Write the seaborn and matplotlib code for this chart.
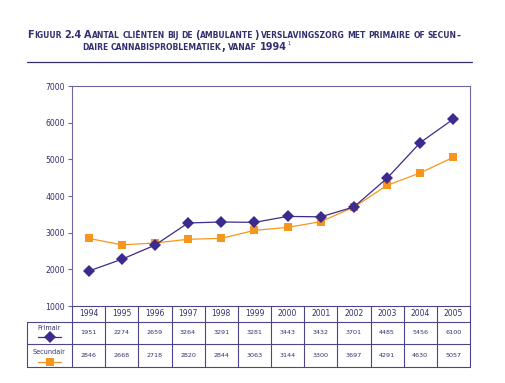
import re
import matplotlib
matplotlib.use("Agg")
import matplotlib.pyplot as plt
import seaborn as sns
import pandas as pd
from matplotlib.lines import Line2D
from matplotlib.transforms import blended_transform_factory

# ---------------- data ----------------
years = [1994, 1995, 1996, 1997, 1998, 1999, 2000, 2001, 2002, 2003, 2004, 2005]
primair = [1951, 2274, 2659, 3264, 3291, 3281, 3443, 3432, 3701, 4485, 5456, 6100]
secundair = [2846, 2668, 2718, 2820, 2844, 3063, 3144, 3300, 3697, 4291, 4630, 5057]
series_names = ["Primair", "Secundair"]
yticks = [1000, 2000, 3000, 4000, 5000, 6000, 7000]
title_line1 = "Figuur 2.4 Aantal cliënten bij de (ambulante) verslavingszorg met primaire of secun-"
title_line2 = "daire cannabisproblematiek, vanaf 1994"

PURPLE = "#3d2a8c"
ORANGE = "#f7961e"
TXT = "#34306f"
SPINE = "#6c68a0"
GRID = "#4a4688"

sns.set_theme(style="white")
plt.rcParams["font.family"] = ["DejaVu Sans"]

W, H = 505, 383
fig = plt.figure(figsize=(W / 100, H / 100), dpi=100)
fig.patch.set_facecolor("white")

ax = fig.add_axes([72 / W, 1 - 306 / H, 398 / W, 220 / H])

df = pd.DataFrame({
    "year": years * 2,
    "value": primair + secundair,
    "serie": [series_names[0]] * len(years) + [series_names[1]] * len(years),
})
sns.lineplot(data=df, x="year", y="value", hue="serie", style="serie",
             markers={"Primair": "D", "Secundair": "s"}, dashes=False,
             palette={"Primair": PURPLE, "Secundair": ORANGE},
             linewidth=0.9, markersize=5.8, markeredgewidth=0,
             legend=False, ax=ax)
for ln in ax.lines:
    if matplotlib.colors.to_hex(ln.get_color()) == PURPLE:
        ln.set_zorder(4)

ax.set_xlim(years[0] - 0.5, years[-1] + 0.5)
ax.set_ylim(yticks[0], yticks[-1])
ax.set_yticks(yticks)
ax.set_yticklabels([str(v) for v in yticks], fontsize=5.6, color=TXT)
ax.set_xticks([])
ax.set_xlabel("")
ax.set_ylabel("")
ax.tick_params(axis="y", length=3, width=0.8, color=SPINE, pad=2, left=True)
for s in ax.spines.values():
    s.set_color(SPINE)
    s.set_linewidth(0.8)
ax.spines["bottom"].set_color(GRID)
ax.grid(False)

# ---------------- table under the axes ----------------
tr = blended_transform_factory(ax.transData, ax.transAxes)
px_y = 1 / 220.0
y_head_bot = -16 * px_y
y_prim_bot = -38 * px_y
y_sec_bot = -61 * px_y
x_label_left = years[0] - 0.5 - (72 - 27) / (398 / 12)
x_label_right = years[0] - 0.5
x_right = years[-1] + 0.5

lw = 0.8
def seg(x0, x1, y0, y1):
    ax.add_line(Line2D([x0, x1], [y0, y1], transform=tr, color=GRID,
                       linewidth=lw, clip_on=False))

for yb in (y_head_bot, y_prim_bot, y_sec_bot):
    seg(x_label_left, x_right, yb, yb)
for i in range(len(years) + 1):
    xb = years[0] - 0.5 + i
    seg(xb, xb, 0, y_sec_bot)
seg(x_label_left, x_label_left, y_head_bot, y_sec_bot)

for yr, p, s in zip(years, primair, secundair):
    ax.text(yr, (0 + y_head_bot) / 2, str(yr), transform=tr, ha="center",
            va="center", fontsize=5.5, color=TXT, clip_on=False)
    ax.text(yr, (y_head_bot + y_prim_bot) / 2, str(p), transform=tr,
            ha="center", va="center", fontsize=4.6, color=TXT, clip_on=False)
    ax.text(yr, (y_prim_bot + y_sec_bot) / 2, str(s), transform=tr,
            ha="center", va="center", fontsize=4.6, color=TXT, clip_on=False)

xc = (x_label_left + x_label_right) / 2
half = 0.36
for name, color, mk, ms, ytxt, ymk in [
    (series_names[0], PURPLE, "D", 5.8, -22 * px_y, -31 * px_y),
    (series_names[1], ORANGE, "s", 5.8, -46 * px_y, -56 * px_y),
]:
    ax.text(xc, ytxt, name, transform=tr, ha="center", va="center",
            fontsize=4.7, color=TXT, clip_on=False)
    ax.add_line(Line2D([xc - half, xc + half], [ymk, ymk], transform=tr,
                       color=color, linewidth=0.9, clip_on=False))
    ax.add_line(Line2D([xc], [ymk], transform=tr, marker=mk, markersize=ms,
                       color=color, markeredgewidth=0, linestyle="none",
                       clip_on=False))

# ---------------- small-caps title ----------------
renderer = fig.canvas.get_renderer()
BIG0, SMALL0 = 7.8, 6.1
GAP = 0.35
_cache = {}

def measure(tok, size):
    key = (tok, size)
    if key not in _cache:
        t = fig.text(0, 0, tok, fontsize=size, fontweight="bold")
        _cache[key] = t.get_window_extent(renderer).width
        t.remove()
    return _cache[key]

def pieces(word):
    return [(p.upper(), p.islower()) for p in re.findall(r"[a-zë]+|[^a-zë]+", word)]

def layout(s, big, small):
    words = s.split(" ")
    widths = []
    for w in words:
        tot = 0
        ps = pieces(w)
        for i, (txt, sm) in enumerate(ps):
            tot += measure(txt, small if sm else big)
            if i < len(ps) - 1:
                tot += GAP
        widths.append(tot)
    return words, widths

def draw_sc(x, base_px, s, big, small, space):
    words, widths = layout(s, big, small)
    for w in words:
        ps = pieces(w)
        for i, (txt, sm) in enumerate(ps):
            size = small if sm else big
            fig.text(x / W, 1 - base_px / H, txt, fontsize=size,
                     fontweight="bold", color=TXT, ha="left", va="baseline")
            x += measure(txt, size) + (GAP if i < len(ps) - 1 else 0)
        x += space
    return x - space

target = 462 - 27
words, widths = layout(title_line1, BIG0, SMALL0)
nat = sum(widths)
space = (target - nat) / (len(words) - 1)
big, small = BIG0, SMALL0
if space < 2.6:
    f = (target - 2.6 * (len(words) - 1)) / nat
    big, small = BIG0 * f, SMALL0 * f
    space = 2.6
draw_sc(27, 38.3, title_line1, big, small, space)
xe = draw_sc(82, 49.5, title_line2, big, small, space)
fig.text((xe + 0.8) / W, 1 - 45.0 / H, "1", fontsize=3.6, color=TXT,
         ha="left", va="baseline")
fig.add_artist(Line2D([27 / W, 472 / W], [1 - 62 / H, 1 - 62 / H],
                      color=TXT, linewidth=0.9))

fig.savefig("out.png", dpi=100)
